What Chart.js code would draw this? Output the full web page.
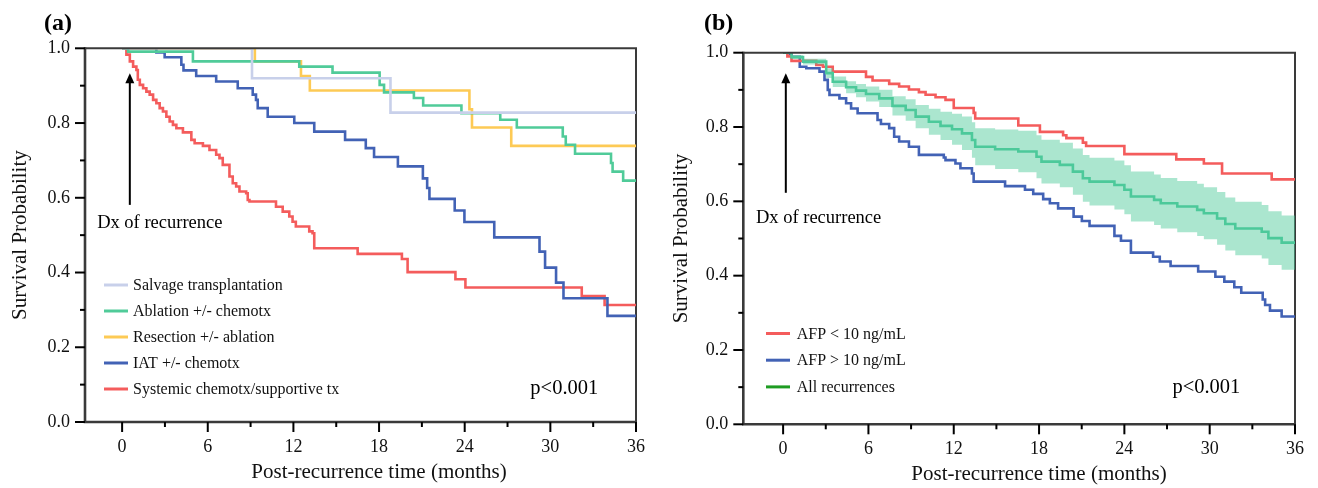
<!DOCTYPE html>
<html><head><meta charset="utf-8">
<script src="https://cdn.jsdelivr.net/npm/chart.js@4/dist/chart.umd.min.js"></script>
<style>
body{margin:0;background:#fff;width:1318px;height:488px;overflow:hidden;}
.wrap{position:absolute;top:0;height:488px;width:659px;}
#wa{left:0;} #wb{left:659px;}
</style>
</head><body>
<div class="wrap" id="wa"><canvas id="ca" width="659" height="488"></canvas></div>
<div class="wrap" id="wb"><canvas id="cb" width="659" height="488"></canvas></div>
<script>
const FONT = '"Liberation Serif", "Times New Roman", serif';

// ---------- shared axis ticks ----------
const xTicks = [0, 6, 12, 18, 24, 30, 36];
const xMinorTicks = [3, 9, 15, 21, 27, 33];
const yTicks = [0, 0.2, 0.4, 0.6, 0.8, 1.0];
const yMinorTicks = [0.1, 0.3, 0.5, 0.7, 0.9];

// ---------- panel (a) ----------
const aLabels = ['Salvage transplantation', 'Ablation +/- chemotx', 'Resection +/- ablation', 'IAT +/- chemotx', 'Systemic chemotx/supportive tx'];
const aColors = ['#c8d0ea', '#50cb99', '#fdca55', '#4262b5', '#f45c5c'];

const aSalvageT = [0, 9.1, 18.8, 36];
const aSalvageS = [1.0, 0.920, 0.828, 0.828];

const aAblationT = [0, 0.42, 4.96, 12.41, 14.74, 18.04, 18.35, 20.44, 21.09, 23.77, 26.49, 27.65, 30.87, 31.08, 31.73, 34.25, 34.36, 35.1, 36];
const aAblationS = [1.0, 0.991, 0.965, 0.951, 0.935, 0.902, 0.882, 0.867, 0.847, 0.826, 0.809, 0.788, 0.764, 0.742, 0.718, 0.693, 0.670, 0.646, 0.646];

const aResectionT = [0, 9.3, 12.53, 13.15, 24.33, 24.51, 27.26, 36];
const aResectionS = [1.0, 0.965, 0.926, 0.887, 0.837, 0.788, 0.739, 0.739];

const aIatT = [0, 2.40, 2.98, 4.15, 4.30, 5.19, 6.59, 8.10, 9.15, 9.38, 9.50, 10.20, 12.06, 13.46, 15.62, 17.07, 17.65, 19.32, 21.07, 21.37, 21.53, 23.30, 23.98, 26.07, 29.24, 29.63, 30.40, 30.92, 34.00, 36];
const aIatS = [1.0, 0.989, 0.976, 0.956, 0.941, 0.926, 0.911, 0.893, 0.876, 0.862, 0.840, 0.817, 0.800, 0.777, 0.755, 0.733, 0.709, 0.684, 0.652, 0.626, 0.597, 0.566, 0.535, 0.494, 0.456, 0.413, 0.373, 0.331, 0.284, 0.284];

const aSystemicT = [0, 0.3, 0.54, 0.77, 1.0, 1.1, 1.24, 1.47, 1.70, 1.93, 2.17, 2.40, 2.63, 2.86, 3.10, 3.33, 3.56, 3.80, 4.26, 4.85, 5.08, 5.66, 6.12, 6.59, 6.82, 7.05, 7.52, 7.75, 7.99, 8.22, 8.69, 8.80, 8.92, 10.78, 11.25, 11.71, 11.94, 12.17, 13.11, 13.34, 13.46, 16.5, 19.6, 20.0, 23.35, 24.05, 32.2, 33.8, 36];
const aSystemicS = [1.0, 0.983, 0.965, 0.951, 0.942, 0.916, 0.902, 0.893, 0.884, 0.876, 0.862, 0.853, 0.840, 0.831, 0.817, 0.804, 0.795, 0.786, 0.775, 0.755, 0.746, 0.739, 0.728, 0.715, 0.706, 0.688, 0.657, 0.639, 0.630, 0.617, 0.612, 0.594, 0.590, 0.576, 0.563, 0.550, 0.536, 0.523, 0.510, 0.505, 0.465, 0.450, 0.436, 0.401, 0.382, 0.360, 0.337, 0.313, 0.313];

// ---------- panel (b) ----------
const bLabels = ['AFP < 10 ng/mL', 'AFP > 10 ng/mL', 'All recurrences'];
const bLegendColors = ['#f45c5c', '#4262b5', '#1e9c22'];

const bLowT = [0, 0.3, 0.59, 2.33, 2.80, 3.49, 5.83, 6.29, 7.46, 8.16, 8.85, 9.55, 10.02, 10.72, 11.42, 12.0, 13.4, 13.51, 16.54, 18.06, 19.69, 19.92, 21.08, 21.31, 24.0, 27.65, 29.59, 30.87, 34.36, 36];
const bLowS = [1.0, 0.990, 0.978, 0.967, 0.962, 0.949, 0.935, 0.925, 0.916, 0.909, 0.901, 0.894, 0.887, 0.880, 0.873, 0.851, 0.838, 0.823, 0.804, 0.787, 0.778, 0.770, 0.758, 0.749, 0.727, 0.713, 0.702, 0.675, 0.659, 0.659];

const bHighT = [0, 0.47, 0.59, 1.17, 1.63, 2.56, 2.91, 3.14, 3.26, 3.96, 4.43, 4.78, 5.24, 6.64, 6.88, 7.46, 7.81, 8.16, 8.85, 9.55, 11.30, 11.42, 12.12, 12.47, 13.28, 13.40, 15.61, 17.01, 17.59, 18.29, 18.76, 19.34, 20.43, 21.01, 21.55, 23.30, 23.76, 24.46, 26.02, 26.49, 27.25, 29.19, 30.40, 31.03, 31.73, 32.22, 33.73, 33.90, 34.24, 35.06, 36];
const bHighS = [1.0, 0.995, 0.989, 0.962, 0.958, 0.949, 0.927, 0.900, 0.886, 0.877, 0.864, 0.850, 0.837, 0.819, 0.808, 0.797, 0.774, 0.761, 0.747, 0.725, 0.718, 0.711, 0.702, 0.689, 0.675, 0.653, 0.641, 0.631, 0.620, 0.606, 0.595, 0.581, 0.559, 0.547, 0.534, 0.507, 0.494, 0.462, 0.451, 0.438, 0.426, 0.411, 0.397, 0.384, 0.369, 0.354, 0.336, 0.321, 0.306, 0.290, 0.290];

const bAllT = [0, 0.59, 1.40, 3.03, 3.49, 4.43, 5.13, 5.83, 6.76, 7.69, 8.62, 9.32, 10.25, 11.07, 11.88, 12.58, 13.28, 13.51, 14.91, 16.54, 17.82, 18.17, 19.46, 20.38, 21.08, 21.55, 23.30, 24.0, 24.46, 26.09, 26.56, 27.72, 29.12, 29.59, 30.52, 31.1, 31.8, 33.66, 34.13, 35.06, 36];
const bAllS = [1.0, 0.988, 0.976, 0.945, 0.922, 0.907, 0.898, 0.889, 0.877, 0.857, 0.846, 0.828, 0.814, 0.803, 0.794, 0.783, 0.765, 0.747, 0.740, 0.734, 0.720, 0.707, 0.698, 0.680, 0.662, 0.653, 0.644, 0.631, 0.613, 0.604, 0.595, 0.586, 0.577, 0.568, 0.554, 0.539, 0.527, 0.518, 0.501, 0.489, 0.489];
const bAllUpper = [1.0, 0.993, 0.984, 0.958, 0.936, 0.923, 0.916, 0.909, 0.900, 0.883, 0.875, 0.859, 0.849, 0.841, 0.836, 0.828, 0.813, 0.797, 0.793, 0.790, 0.778, 0.766, 0.758, 0.742, 0.725, 0.717, 0.710, 0.697, 0.680, 0.672, 0.663, 0.655, 0.647, 0.638, 0.625, 0.610, 0.599, 0.590, 0.573, 0.562, 0.562];
const bAllLower = [1.0, 0.983, 0.968, 0.932, 0.908, 0.891, 0.880, 0.869, 0.854, 0.831, 0.817, 0.797, 0.779, 0.765, 0.752, 0.738, 0.717, 0.697, 0.687, 0.678, 0.662, 0.648, 0.638, 0.618, 0.599, 0.589, 0.578, 0.565, 0.546, 0.536, 0.527, 0.517, 0.507, 0.498, 0.483, 0.468, 0.455, 0.446, 0.429, 0.416, 0.416];

function pts(T, S) { return T.map((t, i) => ({ x: t, y: S[i] })); }

function kmLine(label, T, S, color, order) {
  return { label, data: pts(T, S), borderColor: color, backgroundColor: color, borderWidth: 2.6,
    stepped: 'before', pointRadius: 0, fill: false, order };
}

// ---------- decoration plugin (frame, ticks, arrow, notes, legend, titles) ----------
const deco = {
  id: 'deco',
  beforeDatasetsDraw(chart, args, o) {
    const { ctx, chartArea: a, scales: { x, y } } = chart;
    ctx.save();
    ctx.strokeStyle = '#3a3a3a';
    ctx.lineWidth = 2;
    ctx.beginPath(); ctx.moveTo(a.right, a.top); ctx.lineTo(a.right, a.bottom); ctx.stroke();
    ctx.lineWidth = 2.6;
    ctx.beginPath(); ctx.moveTo(a.left, a.top - 1); ctx.lineTo(a.left, a.bottom); ctx.lineTo(a.right + 1, a.bottom); ctx.stroke();
    ctx.strokeStyle = '#000';
    ctx.lineWidth = 2;
    const tk = (vals, len, isX) => vals.forEach(v => {
      ctx.beginPath();
      if (isX) { const p = x.getPixelForValue(v); ctx.moveTo(p, a.bottom); ctx.lineTo(p, a.bottom + len); }
      else { const p = y.getPixelForValue(v); ctx.moveTo(a.left, p); ctx.lineTo(a.left - len, p); }
      ctx.stroke();
    });
    tk(xTicks, 10, true); tk(xMinorTicks, 5, true);
    tk(yTicks, 10, false); tk(yMinorTicks, 5, false);
    ctx.restore();
  },
  afterDatasetsDraw(chart) {
    const { ctx, chartArea: a } = chart;
    ctx.save();
    ctx.strokeStyle = '#3a3a3a'; ctx.lineWidth = 2;
    ctx.beginPath(); ctx.moveTo(a.left, a.top); ctx.lineTo(a.right + 1, a.top); ctx.stroke();
    ctx.restore();
  },
  afterDraw(chart, args, o) {
    const { ctx, chartArea: a, scales: { x, y } } = chart;
    ctx.save();
    ctx.fillStyle = '#000';
    // panel label
    ctx.font = 'bold 24px ' + FONT;
    ctx.textBaseline = 'alphabetic'; ctx.textAlign = 'left';
    ctx.fillText(o.panel, o.panelX, o.panelY);
    // arrow
    const ax = x.getPixelForValue(o.arrowX), yTip = y.getPixelForValue(o.arrowTop), yBot = y.getPixelForValue(o.arrowBottom);
    ctx.strokeStyle = '#000'; ctx.lineWidth = 2;
    ctx.beginPath(); ctx.moveTo(ax, yBot); ctx.lineTo(ax, yTip + 6); ctx.stroke();
    ctx.beginPath(); ctx.moveTo(ax, yTip); ctx.lineTo(ax - 4.5, yTip + 10); ctx.lineTo(ax + 4.5, yTip + 10); ctx.closePath(); ctx.fill();
    // notes
    ctx.font = '18.5px ' + FONT;
    ctx.fillText(o.dxText, x.getPixelForValue(o.dxX), y.getPixelForValue(o.dxY));
    ctx.font = '20.5px ' + FONT;
    ctx.fillText(o.pText, x.getPixelForValue(o.pX), y.getPixelForValue(o.pY));
    // legend
    ctx.font = '16px ' + FONT;
    ctx.textBaseline = 'middle';
    o.legendLabels.forEach((lab, i) => {
      const ly = o.legendY + i * o.legendGap;
      const lx = a.left + o.legendDX;
      ctx.strokeStyle = o.legendColors[i]; ctx.lineWidth = 3;
      ctx.beginPath(); ctx.moveTo(lx, ly); ctx.lineTo(lx + 24, ly); ctx.stroke();
      ctx.fillStyle = '#111';
      ctx.fillText(lab, lx + o.legendTextDX, ly + 1);
    });
    // x axis title (centred on the 0-36 month range)
    ctx.font = '21px ' + FONT;
    ctx.textAlign = 'center'; ctx.textBaseline = 'middle';
    ctx.fillStyle = '#111';
    ctx.fillText(o.xTitle, (x.getPixelForValue(0) + x.getPixelForValue(36)) / 2, o.xTitleY);
    ctx.restore();
  }
};

function makeOptions(c) {
  return {
    responsive: false, animation: false, devicePixelRatio: 1,
    layout: { padding: c.padding },
    plugins: { legend: { display: false }, tooltip: { enabled: false }, deco: c.deco },
    scales: {
      x: {
        type: 'linear', min: c.xMin, max: 36,
        afterBuildTicks: s => { s.ticks = xTicks.map(v => ({ value: v })); },
        afterFit: s => { s.height = c.xHeight; },
        grid: { display: false, drawTicks: false }, border: { display: false },
        ticks: { font: { family: FONT, size: 18 }, color: '#111', padding: c.xPad, maxRotation: 0, autoSkip: false, callback: v => String(v) }
      },
      y: {
        type: 'linear', min: 0, max: 1,
        afterBuildTicks: s => { s.ticks = yTicks.map(v => ({ value: v })); },
        afterFit: s => { s.width = c.yWidth; },
        grid: { display: false, drawTicks: false }, border: { display: false },
        ticks: { font: { family: FONT, size: 18 }, color: '#111', padding: 15, callback: v => v.toFixed(1) },
        title: { display: true, text: 'Survival Probability', color: '#111', font: { family: FONT, size: 21 }, padding: { top: c.yTitlePad, bottom: 0 } }
      }
    }
  };
}

// ---------- chart (a) ----------
new Chart(document.getElementById('ca'), {
  type: 'line',
  data: { datasets: [
    kmLine(aLabels[0], aSalvageT, aSalvageS, aColors[0], 0),
    kmLine(aLabels[1], aAblationT, aAblationS, aColors[1], 1),
    kmLine(aLabels[2], aResectionT, aResectionS, aColors[2], 2),
    kmLine(aLabels[3], aIatT, aIatS, aColors[3], 3),
    kmLine(aLabels[4], aSystemicT, aSystemicS, aColors[4], 4)
  ] },
  options: makeOptions({
    padding: { left: 0, right: 21.3, top: 48.3, bottom: 0 },
    xMin: -2.6, xHeight: 66, yWidth: 85, xPad: 14, yTitlePad: 7.4,
    deco: {
      panel: '(a)', panelX: 44, panelY: 30,
      arrowX: 0.54, arrowTop: 0.933, arrowBottom: 0.581,
      dxText: 'Dx of recurrence', dxX: -1.75, dxY: 0.519,
      pText: 'p<0.001', pX: 28.6, pY: 0.074,
      legendLabels: aLabels, legendColors: aColors,
      legendY: 285, legendGap: 26, legendDX: 19, legendTextDX: 29,
      xTitle: 'Post-recurrence time (months)', xTitleY: 472.5
    }
  }),
  plugins: [deco]
});

// ---------- chart (b) ----------
new Chart(document.getElementById('cb'), {
  type: 'line',
  data: { datasets: [
    kmLine(bLabels[0], bLowT, bLowS, '#f45c5c', 3),
    kmLine(bLabels[1], bHighT, bHighS, '#4262b5', 4),
    kmLine(bLabels[2], bAllT, bAllS, '#4cc99a', 0),
    { label: 'All recurrences upper CI', data: pts(bAllT, bAllUpper), borderWidth: 0, borderColor: 'rgba(0,0,0,0)',
      backgroundColor: 'rgba(76,201,154,0.47)', stepped: 'before', pointRadius: 0, fill: '+1', order: 1 },
    { label: 'All recurrences lower CI', data: pts(bAllT, bAllLower), borderWidth: 0, borderColor: 'rgba(0,0,0,0)',
      backgroundColor: 'rgba(0,0,0,0)', stepped: 'before', pointRadius: 0, fill: false, order: 2 }
  ] },
  options: makeOptions({
    padding: { left: 0, right: 19.7, top: 52.7, bottom: 0 },
    xMin: -2.8, xHeight: 63.7, yWidth: 84.3, xPad: 14, yTitlePad: 10,
    deco: {
      panel: '(b)', panelX: 45, panelY: 30,
      arrowX: 0.19, arrowTop: 0.945, arrowBottom: 0.623,
      dxText: 'Dx of recurrence', dxX: -1.91, dxY: 0.543,
      pText: 'p<0.001', pX: 27.38, pY: 0.084,
      legendLabels: bLabels, legendColors: bLegendColors,
      legendY: 333.5, legendGap: 26.7, legendDX: 22.7, legendTextDX: 30.7,
      xTitle: 'Post-recurrence time (months)', xTitleY: 474
    }
  }),
  plugins: [deco]
});
</script>
</body></html>
